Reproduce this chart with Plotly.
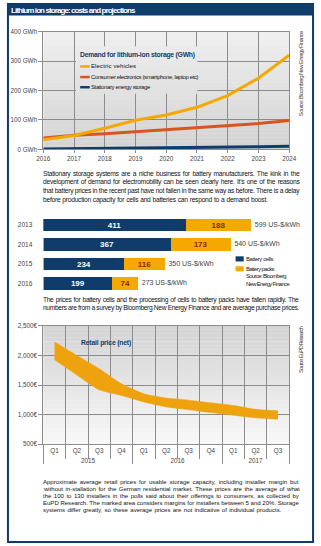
import plotly.graph_objects as go

W, H = 321, 546


def fx(x):
    return x / W


def fy(y):
    return 1 - y / H


NAVY = "#0f3c6a"
AMBER = "#f5a800"
RUST = "#d8561d"
BAND = "#eea20d"
GRID = "#8c8c8c"
TXT = "#141213"
TICK = "#444444"
FONT = "Liberation Sans, Arial, sans-serif"

# Demand for lithium-ion storage (GWh)
years = [2016, 2017, 2018, 2019, 2020, 2021, 2022, 2023, 2024]
electric_vehicles = [33, 47, 72, 99, 117, 143, 183, 242, 320]
consumer_electronics = [39, 48, 53, 60, 66, 75, 81, 88, 98]
stationary_storage = [1, 2, 2, 3, 5, 6, 8, 9, 11]

# Battery prices (US-$/kWh)
price_years = ["2013", "2014", "2015", "2016"]
cell_price = [411, 367, 234, 199]
pack_price = [188, 173, 116, 74]

# Retail price band for storage systems (EUR per kWh)
band_years = ["2015"] * 4 + ["2016"] * 4 + ["2017"] * 3
band_quarters = ["Q1", "Q2", "Q3", "Q4", "Q1", "Q2", "Q3", "Q4", "Q1", "Q2", "Q3"]
retail_low = [1926, 1670, 1420, 1324, 1214, 1130, 1085, 1035, 990, 946, 923]
retail_high = [2227, 2000, 1774, 1520, 1353, 1280, 1245, 1200, 1155, 1090, 1065]

# Advance widths of Liberation Sans (Arial metrics), 1/1000 em
_REG = dict(zip(" !'(),-./:;%$€\u00a0", [278, 278, 191, 333, 333, 278, 333, 278, 278, 278, 278, 889, 556, 556, 278]))
_REG.update(dict(zip("ABCDEFGHIJKLMNOPQRSTUVWXYZ",
                     [667, 667, 722, 722, 667, 611, 778, 722, 278, 500, 667, 556, 833, 722, 778, 667, 778, 722, 667, 611, 722, 667, 944, 667, 667, 611])))
_REG.update(dict(zip("abcdefghijklmnopqrstuvwxyz",
                     [556, 556, 500, 556, 556, 278, 556, 556, 222, 222, 500, 222, 833, 556, 556, 556, 556, 333, 500, 278, 556, 500, 722, 500, 500, 500])))
_BOLD = dict(_REG)
_BOLD.update(dict(zip("ABCDEFGHIJKLMNOPQRSTUVWXYZ",
                      [722, 722, 722, 722, 667, 611, 778, 722, 278, 556, 722, 611, 833, 722, 778, 667, 778, 722, 667, 611, 722, 667, 944, 667, 667, 611])))
_BOLD.update(dict(zip("abcdefghijklmnopqrstuvwxyz",
                      [556, 611, 556, 611, 556, 333, 611, 611, 278, 278, 556, 278, 889, 611, 611, 611, 611, 389, 556, 333, 611, 556, 778, 556, 556, 500])))
_BOLD.update({"'": 238, "(": 333, ")": 333, "-": 333})


def text_width(s, size, bold=False):
    tbl = _BOLD if bold else _REG
    return sum(tbl.get(ch, 556) for ch in s) * size / 1000


def squeeze(s, target, size, bold=False):
    ls = (target - text_width(s, size, bold)) / len(s)
    return f'<span style="letter-spacing:{ls:.2f}px">{s}</span>'


def justify(lines, targets, size):
    natural = [text_width(s, size) for s in lines]
    ls = min(0.0, min((t - w) / len(s) for s, t, w in zip(lines, targets, natural)))
    out = []
    for s, t, w in zip(lines, targets, natural):
        gap = (t - w - ls * len(s)) / max(1, s.count(" "))
        out.append(f'<span style="letter-spacing:{ls:.2f}px;word-spacing:{gap:.2f}px">{s}</span>')
    return out


fig = go.Figure()

# ---- demand lines
for vals, col in [(stationary_storage, NAVY), (consumer_electronics, RUST), (electric_vehicles, AMBER)]:
    fig.add_trace(go.Scatter(x=years, y=vals, mode="lines", line=dict(color=col, width=3),
                             showlegend=False, hoverinfo="skip", xaxis="x", yaxis="y"))

# ---- stacked price bars
fig.add_trace(go.Bar(y=price_years, x=cell_price, orientation="h", marker=dict(color=NAVY, line=dict(width=0)),
                     text=cell_price, textposition="inside", insidetextanchor="middle", constraintext="none",
                     textfont=dict(color="white", size=8, family=FONT, weight="bold"),
                     showlegend=False, xaxis="x2", yaxis="y2"))
fig.add_trace(go.Bar(y=price_years, x=pack_price, orientation="h", marker=dict(color=AMBER, line=dict(width=0)),
                     text=pack_price, textposition="inside", insidetextanchor="middle", constraintext="none",
                     textfont=dict(color="#8a2b0c", size=8, family=FONT, weight="bold"),
                     showlegend=False, xaxis="x2", yaxis="y2"))
totals = [c + p for c, p in zip(cell_price, pack_price)]
fig.add_trace(go.Scatter(y=price_years, x=totals, mode="text",
                         text=[squeeze(f"\u00a0\u00a0{t} US-$/kWh", 49, 7) for t in totals],
                         textposition="middle right",
                         textfont=dict(color=TICK, size=7, family=FONT),
                         showlegend=False, cliponaxis=False, xaxis="x2", yaxis="y2"))

# ---- retail price band
band_x = [band_years, band_quarters]
fig.add_trace(go.Scatter(x=band_x, y=retail_low, mode="lines",
                         line=dict(color=BAND, width=0.5, shape="spline", smoothing=0.6),
                         showlegend=False, xaxis="x3", yaxis="y3"))
fig.add_trace(go.Scatter(x=band_x, y=retail_high, mode="lines",
                         line=dict(color=BAND, width=0.5, shape="spline", smoothing=0.6),
                         fill="tonexty", fillcolor=BAND, showlegend=False, xaxis="x3", yaxis="y3"))

shapes = []


def hexmix(c0, c1, t):
    a = [int(c0[i:i + 2], 16) for i in (1, 3, 5)]
    b = [int(c1[i:i + 2], 16) for i in (1, 3, 5)]
    return "#" + "".join(f"{round(a[k] + (b[k] - a[k]) * t):02x}" for k in range(3))


def gradient(xref, yref, top, bottom, x0=0.0, x1=1.0, y0=0.0, y1=1.0, n=30, layer="below"):
    for i in range(n):
        ya = y1 - (y1 - y0) * i / n
        yb = y1 - (y1 - y0) * (i + 1) / n
        t = 1 - ((ya + yb) / 2)
        shapes.append(dict(type="rect", xref=xref, yref=yref, x0=x0, x1=x1, y0=yb, y1=min(1.0, ya + 0.002),
                           fillcolor=hexmix(top, bottom, t), line=dict(width=0), layer=layer))


CH1_TOP, CH1_BOT = "#efefef", "#d3d3d3"
gradient("x domain", "y domain", CH1_TOP, CH1_BOT)
gradient("x3 domain", "y3 domain", "#d3d3d3", "#f8f8f8")

# legend panel of the demand chart, covering the grid lines
gradient("x domain", "y domain", CH1_TOP, CH1_BOT,
         x0=(72 - 38) / 257, x1=(199 - 38) / 257,
         y0=(147.3 - 91) / 119.3, y1=(147.3 - 43) / 119.3, n=10, layer="above")

# title bar and frame
shapes.append(dict(type="rect", xref="paper", yref="paper", x0=0, x1=1, y0=fy(11.7), y1=1,
                   fillcolor=NAVY, line=dict(width=0), layer="above"))
shapes.append(dict(type="rect", xref="paper", yref="paper", x0=fx(1), x1=fx(320), y0=fy(545), y1=fy(0),
                   fillcolor="rgba(0,0,0,0)", line=dict(color=NAVY, width=2), layer="above"))

# legend samples, demand chart
for yy, col in [(63.3, AMBER), (74, RUST), (84.3, NAVY)]:
    shapes.append(dict(type="line", xref="paper", yref="paper", x0=fx(76.5), x1=fx(86.5), y0=fy(yy), y1=fy(yy),
                       line=dict(color=col, width=2.5), layer="above"))

# legend swatches, price bars
for yy, col in [(258.2, NAVY), (268.2, AMBER)]:
    shapes.append(dict(type="rect", xref="paper", yref="paper", x0=fx(239), x1=fx(247.5),
                       y0=fy(yy + 2.6), y1=fy(yy - 2.6), fillcolor=col, line=dict(width=0), layer="above"))

ann = []


def text(x, y, s, size=7, color=TXT, anchor="left", weight="normal", angle=0):
    ann.append(dict(x=fx(x), y=fy(y), xref="paper", yref="paper", text=s, showarrow=False,
                    xanchor=anchor, yanchor="middle", textangle=angle, borderpad=0, borderwidth=0,
                    font=dict(family=FONT, size=size, color=color, weight=weight)))


text(4.5, 6.2, squeeze("Lithium ion storage: costs and projections", 123, 8, True), size=8, color="white", weight="bold")

text(76, 52, squeeze("Demand for lithium-ion storage (GWh)", 115, 6.8, True), size=6.8, color=NAVY, weight="bold")
text(88, 63.3, squeeze("Electric vehicles", 45, 6), size=6)
text(88, 74, squeeze("Consumer electronics (smartphone, laptop etc)", 107, 6), size=6)
text(88, 84.3, squeeze("Stationary energy storage", 59, 6), size=6)
text(307, 70.5, squeeze("Source: Bloomberg New Energy Finance", 85, 6), size=6, color=TICK, anchor="center", angle=-90)

para1 = [
    "Stationary storage systems are a niche business for battery manufacturers. The kink in the",
    "development of demand for electromobility can be seen clearly here. It's one of the reasons",
    "that battery prices in the recent past have not fallen in the same way as before. There is a delay",
    "before production capacity for cells and batteries can respond to a demand boost.",
]
for i, s in enumerate(justify(para1, [257, 257, 257, 225], 6.7)):
    text(38, 172 + i * 8.8, s, size=6.7)

text(250, 258.2, squeeze("Battery cells", 27, 5.8), size=5.8)
text(250, 268.2, squeeze("Battery packs", 28, 5.8), size=5.8)
text(250, 276, squeeze("Source: Bloomberg", 40, 5.8), size=5.8)
text(250, 284, squeeze("New Energy Finance", 43, 5.8), size=5.8)

para2 = [
    "The prices for battery cells and the processing of cells to battery packs have fallen rapidly. The",
    "numbers are from a survey by Bloomberg New Energy Finance and are average purchase prices.",
]
for i, s in enumerate(justify(para2, [257, 257], 6.7)):
    text(38, 300 + i * 8.3, s, size=6.7)

text(77, 343.5, squeeze("Retail price (net)", 50, 6.8, True), size=6.8, color=NAVY, weight="bold")
text(307, 350, squeeze("Source: EuPD Research", 46, 6), size=6, color=TICK, anchor="center", angle=-90)

para3 = [
    "Approximate average retail prices for usable storage capacity, including installer margin but",
    "without in-stallation for the German residential market. These prices are the average of what",
    "the 100 to 130 installers in the polls said about their offerings to consumers, as collected by",
    "EuPD Research. The marked area considers margins for installers between 5 and 20%. Storage",
    "systems differ greatly, so these average prices are not indicative of individual products.",
]
for i, s in enumerate(justify(para3, [256, 256, 256, 256, 239], 6.1)):
    text(38, 483.3 + i * 7.1, s, size=6.1)

tickfont = dict(family=FONT, size=6.3, color=TICK)

fig.update_layout(
    width=W, height=H, margin=dict(l=0, r=0, t=0, b=0),
    paper_bgcolor="white", plot_bgcolor="rgba(0,0,0,0)",
    barmode="stack", bargap=0.355,
    shapes=shapes, annotations=ann,
    xaxis=dict(domain=[fx(38), fx(295)], anchor="y", range=[2016, 2024], dtick=1,
               showgrid=True, gridcolor=GRID, gridwidth=1, showline=True, linecolor=GRID, mirror=True,
               ticks="outside", ticklen=3, tickcolor=GRID, tickfont=tickfont, zeroline=False),
    yaxis=dict(domain=[fy(147.3), fy(28)], anchor="x", range=[0, 400], dtick=100, ticksuffix=" GWh",
               showgrid=True, gridcolor=GRID, gridwidth=1, showline=True, linecolor=GRID, mirror=True,
               ticks="outside", ticklen=4, tickcolor=GRID, tickfont=tickfont, zeroline=False),
    xaxis2=dict(domain=[fx(38), fx(295)], anchor="y2", range=[0, 257 / 0.3625], visible=False),
    yaxis2=dict(domain=[fy(293), fy(214.2)], anchor="x2", type="category", autorange="reversed",
                showgrid=False, showline=False, ticks="", ticklabelstandoff=10,
                tickfont=dict(family=FONT, size=6.5, color=TICK)),
    xaxis3=dict(domain=[fx(38), fx(295)], anchor="y3", type="multicategory", tickson="boundaries",
                range=[-0.5, 10.5],
                showgrid=True, gridcolor=GRID, gridwidth=1, showline=True, linecolor=GRID, mirror=True,
                ticks="outside", ticklen=14, tickcolor=GRID, tickwidth=1,
                showdividers=True, dividercolor=GRID, dividerwidth=1,
                tickfont=dict(family=FONT, size=6.3, color=TICK)),
    yaxis3=dict(domain=[fy(446), fy(326)], anchor="x3", range=[500, 2500], dtick=500,
                tickformat=",", ticksuffix="€",
                showgrid=True, gridcolor=GRID, gridwidth=1, showline=True, linecolor=GRID, mirror=True,
                ticks="outside", ticklen=4, tickcolor=GRID, tickfont=tickfont, zeroline=False),
)

fig.write_html("out.html")
